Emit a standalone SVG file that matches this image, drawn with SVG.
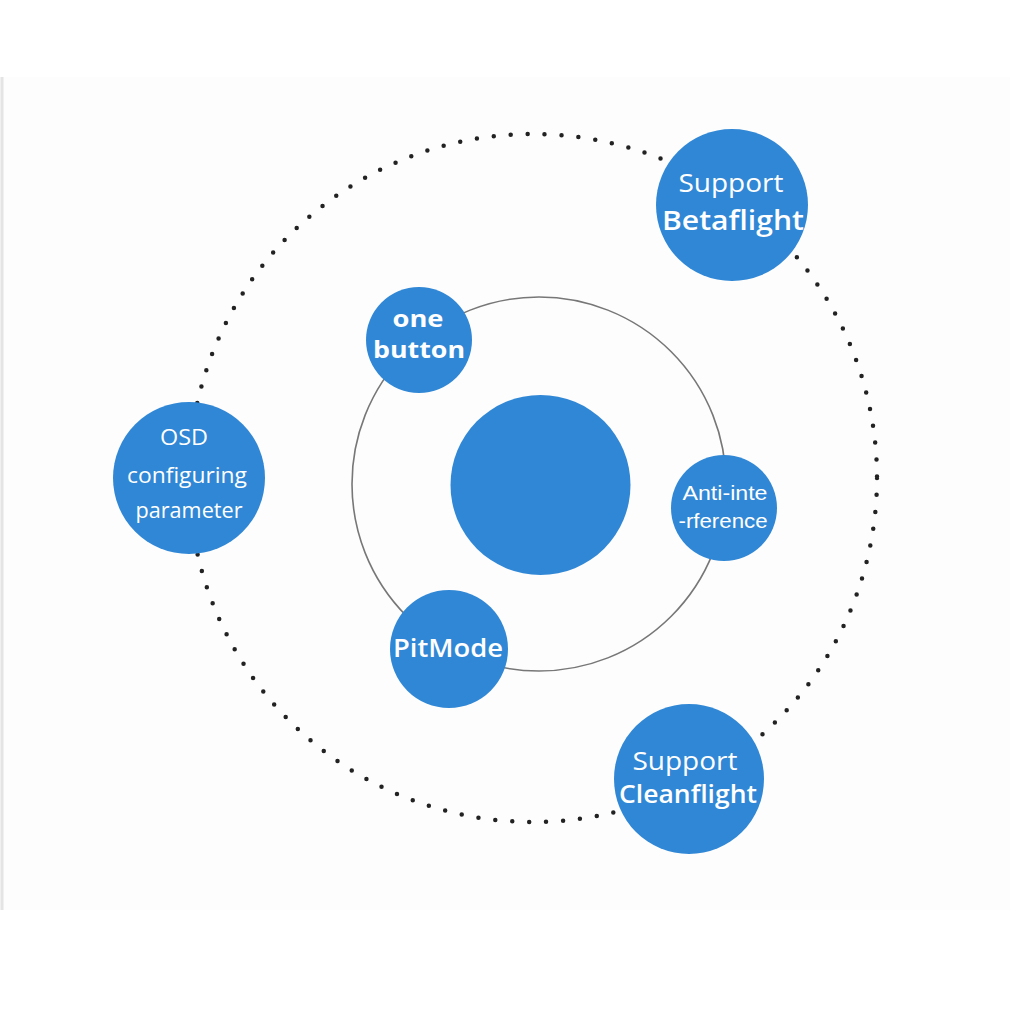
<svg xmlns="http://www.w3.org/2000/svg" width="1010" height="1010" viewBox="0 0 1010 1010">
<style>
.node{fill:#3087d5}
.t{fill:#ffffff;font-family:"Open Sans","Noto Sans","Liberation Sans",sans-serif;text-anchor:middle}
.b{font-weight:600}
.bb{font-weight:700}
.a{fill:#ffffff;font-family:"Liberation Sans",Arial,sans-serif;text-anchor:middle}
</style>
<rect x="0" y="0" width="1010" height="1010" fill="#ffffff"/>
<rect x="0" y="77" width="1010" height="833" fill="#fdfdfd"/>
<line x1="2" y1="77" x2="2" y2="910" stroke="#e4e4e4" stroke-width="3"/>
<g id="connectors">
<circle cx="533" cy="478" r="344" fill="none" stroke="#222" stroke-width="4.5" stroke-linecap="round" stroke-dasharray="0 17"/>
<circle cx="539" cy="484" r="187" fill="none" stroke="#777" stroke-width="1.6"/>
</g>
<g id="center"><circle class="node" cx="540.5" cy="485" r="90"/></g>
<g id="betaflight">
<circle class="node" cx="732" cy="205" r="76"/>
<text class="t" x="731" y="192" font-size="26" textLength="105" lengthAdjust="spacingAndGlyphs">Support</text>
<text class="t b" x="733" y="230" font-size="27" textLength="142" lengthAdjust="spacingAndGlyphs">Betaflight</text>
</g>
<g id="onebutton">
<circle class="node" cx="419" cy="340" r="53"/>
<text class="t bb" x="418" y="327" font-size="24" textLength="51" lengthAdjust="spacingAndGlyphs">one</text>
<text class="t bb" x="419" y="358" font-size="24" textLength="92" lengthAdjust="spacingAndGlyphs">button</text>
</g>
<g id="osd">
<circle class="node" cx="189" cy="478" r="76"/>
<text class="t" x="184" y="445" font-size="21" textLength="48" lengthAdjust="spacingAndGlyphs">OSD</text>
<text class="t" x="187" y="483" font-size="22" textLength="120" lengthAdjust="spacingAndGlyphs">configuring</text>
<text class="t" x="189" y="518" font-size="22" textLength="107" lengthAdjust="spacingAndGlyphs">parameter</text>
</g>
<g id="antiinterference">
<circle class="node" cx="724" cy="508" r="53"/>
<text class="a" x="725" y="500" font-size="21" textLength="85" lengthAdjust="spacingAndGlyphs">Anti-inte</text>
<text class="a" x="723" y="528" font-size="21" textLength="89" lengthAdjust="spacingAndGlyphs">-rference</text>
</g>
<g id="pitmode">
<circle class="node" cx="449" cy="649" r="59"/>
<text class="t b" x="448" y="657" font-size="26" textLength="110" lengthAdjust="spacingAndGlyphs">PitMode</text>
</g>
<g id="cleanflight">
<circle class="node" cx="689" cy="779" r="75"/>
<text class="t" x="685" y="770" font-size="26" textLength="105" lengthAdjust="spacingAndGlyphs">Support</text>
<text class="t b" x="688" y="803" font-size="26" textLength="138" lengthAdjust="spacingAndGlyphs">Cleanflight</text>
</g>
</svg>
